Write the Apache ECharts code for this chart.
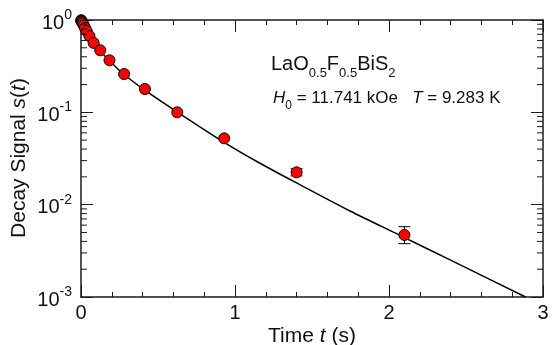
<!DOCTYPE html>
<html><head><meta charset="utf-8">
<script src="https://cdn.jsdelivr.net/npm/echarts@6/dist/echarts.min.js"></script>
<style>html,body{margin:0;padding:0;background:#fff}#c{width:554px;height:345px}</style>
</head><body><div id="c"></div>
<script>
// measured decay points
const times  = [0.001, 0.003, 0.005, 0.008, 0.012, 0.018, 0.026, 0.037, 0.055, 0.082, 0.125, 0.185, 0.28, 0.415, 0.625, 0.93, 1.4, 2.1];
const signal = [0.995, 0.98, 0.965, 0.945, 0.915, 0.875, 0.82, 0.76, 0.67, 0.565, 0.47, 0.366, 0.26, 0.179, 0.1, 0.0523, 0.0224, 0.0047];
// error bars (only visible ones)
const errTimes = [1.4, 2.1];
const errLow   = [0.0205, 0.00378];
const errHigh  = [0.0245, 0.00577];
// fitted curve
const fitT = [0, 0.01, 0.025, 0.05, 0.08, 0.12, 0.18, 0.27, 0.41, 0.628, 0.929, 1.162, 1.42, 1.747, 2.071, 2.4, 2.887];
const fitS = [1.0, 0.93, 0.83, 0.70, 0.58, 0.47, 0.37, 0.265, 0.176, 0.1, 0.0473, 0.0281, 0.0165, 0.00853, 0.00465, 0.00251, 0.001];
// axis ticks
const xMin = 0, xMax = 3, xInterval = 1;
const yMin = 0.001, yMax = 1;
const yMinorTicks = [];
for (let e = -3; e < 0; e++) for (let m = 2; m <= 9; m++) yMinorTicks.push(m * Math.pow(10, e));

const FONT = '"Liberation Sans", Arial, Helvetica, sans-serif';
const AX = '#1a1a1a';

const chart = echarts.init(document.getElementById('c'), null, {renderer: 'canvas'});

function xAxisCfg(pos, labels) {
  return {
    type: 'value', position: pos, min: xMin, max: xMax, interval: xInterval,
    axisLine: {show: true, onZero: false, lineStyle: {color: AX, width: 1.5}},
    axisTick: {show: true, inside: true, length: 12, lineStyle: {color: AX, width: 1}},
    minorTick: {show: true, splitNumber: 5, length: 5, lineStyle: {color: AX, width: 1}},
    splitLine: {show: false},
    axisLabel: {show: labels, color: '#111', fontFamily: FONT, fontSize: 20, margin: 6}
  };
}
function yAxisCfg(pos, labels) {
  return {
    type: 'log', logBase: 10, position: pos, min: yMin, max: yMax,
    axisLine: {show: true, onZero: false, lineStyle: {color: AX, width: 1.5}},
    axisTick: {show: true, inside: true, length: 12, lineStyle: {color: AX, width: 1}},
    splitLine: {show: false},
    axisLabel: {
      show: labels, margin: 9, color: '#111',
      formatter: function (v) {
        const e = Math.round(Math.log10(v));
        return '{b|10}{s|' + e + '}';
      },
      rich: {
        b: {fontFamily: FONT, fontSize: 20, color: '#111', padding: [6, 0, 0, 0]},
        s: {fontFamily: FONT, fontSize: 14, color: '#111', padding: [0, 0, 10, 0]}
      }
    }
  };
}

const option = {
  animation: false,
  backgroundColor: '#fff',
  grid: {left: 81, top: 20, width: 462, height: 277, containLabel: false},
  xAxis: [xAxisCfg('bottom', true), xAxisCfg('top', false)],
  yAxis: [yAxisCfg('left', true), yAxisCfg('right', false)],
  series: [
    {
      type: 'line', xAxisIndex: 0, yAxisIndex: 0, z: 2,
      data: fitT.map((t, i) => [t, fitS[i]]),
      showSymbol: false, smooth: 0.3, clip: true,
      lineStyle: {color: '#000', width: 1.5}
    },
    {
      type: 'custom', xAxisIndex: 0, yAxisIndex: 0, z: 3, silent: true,
      data: errTimes.map((t, i) => [t, errLow[i], errHigh[i]]),
      encode: {x: 0, y: [1, 2]},
      renderItem: function (params, api) {
        const t = api.value(0);
        const lo = api.coord([t, api.value(1)]);
        const hi = api.coord([t, api.value(2)]);
        const w = 6;
        const st = {stroke: '#000', lineWidth: 1};
        return {type: 'group', children: [
          {type: 'line', shape: {x1: lo[0], y1: lo[1], x2: hi[0], y2: hi[1]}, style: st},
          {type: 'line', shape: {x1: lo[0] - w, y1: lo[1], x2: lo[0] + w, y2: lo[1]}, style: st},
          {type: 'line', shape: {x1: hi[0] - w, y1: hi[1], x2: hi[0] + w, y2: hi[1]}, style: st}
        ]};
      }
    },
    {
      type: 'scatter', xAxisIndex: 0, yAxisIndex: 0, z: 4,
      data: times.map((t, i) => [t, signal[i]]),
      symbol: 'circle', symbolSize: 11,
      itemStyle: {color: '#ff0000', borderColor: '#000', borderWidth: 1, opacity: 1}
    },
    {
      type: 'custom', xAxisIndex: 0, yAxisIndex: 0, z: 5, silent: true,
      data: yMinorTicks.map(v => [xMin, v]),
      encode: {x: 0, y: 1},
      renderItem: function (params, api) {
        const v = api.value(1);
        const l = api.coord([xMin, v]);
        const r = api.coord([xMax, v]);
        const st = {stroke: AX, lineWidth: 1};
        return {type: 'group', children: [
          {type: 'line', shape: {x1: l[0], y1: l[1], x2: l[0] + 6, y2: l[1]}, style: st},
          {type: 'line', shape: {x1: r[0] - 6, y1: r[1], x2: r[0], y2: r[1]}, style: st}
        ]};
      }
    }
  ],
  graphic: [
    {
      type: 'text', x: 19, y: 158, rotation: Math.PI / 2,
      style: {
        text: '{n|Decay Signal }{i|s}{n|(}{i|t}{n|)}',
        align: 'center', verticalAlign: 'middle',
        rich: {
          n: {fontFamily: FONT, fontSize: 21, fill: '#111'},
          i: {fontFamily: FONT, fontSize: 21, fontStyle: 'italic', fill: '#111'}
        }
      }
    },
    {
      type: 'text', x: 312, y: 336,
      style: {
        text: '{n|Time }{i|t}{n| (s)}',
        align: 'center', verticalAlign: 'middle',
        rich: {
          n: {fontFamily: FONT, fontSize: 21, fill: '#111'},
          i: {fontFamily: FONT, fontSize: 21, fontStyle: 'italic', fill: '#111'}
        }
      }
    },
    {
      type: 'text', x: 271, y: 64,
      style: {
        text: '{m|LaO}{s|0.5}{m|F}{s|0.5}{m|BiS}{s|2}',
        align: 'left', verticalAlign: 'middle',
        rich: {
          m: {fontFamily: FONT, fontSize: 20, fill: '#111'},
          s: {fontFamily: FONT, fontSize: 13, fill: '#111', padding: [18, 0, 0, 0]}
        }
      }
    },
    {
      type: 'text', x: 273, y: 98,
      style: {
        text: '{i|H}{s|0}{m| = 11.741 kOe   }{i|T}{m| = 9.283 K}',
        align: 'left', verticalAlign: 'middle',
        rich: {
          m: {fontFamily: FONT, fontSize: 17, fill: '#111'},
          i: {fontFamily: FONT, fontSize: 17, fontStyle: 'italic', fill: '#111'},
          s: {fontFamily: FONT, fontSize: 12, fill: '#111', padding: [16, 0, 0, 0]}
        }
      }
    }
  ]
};
chart.setOption(option);
</script>
</body></html>
